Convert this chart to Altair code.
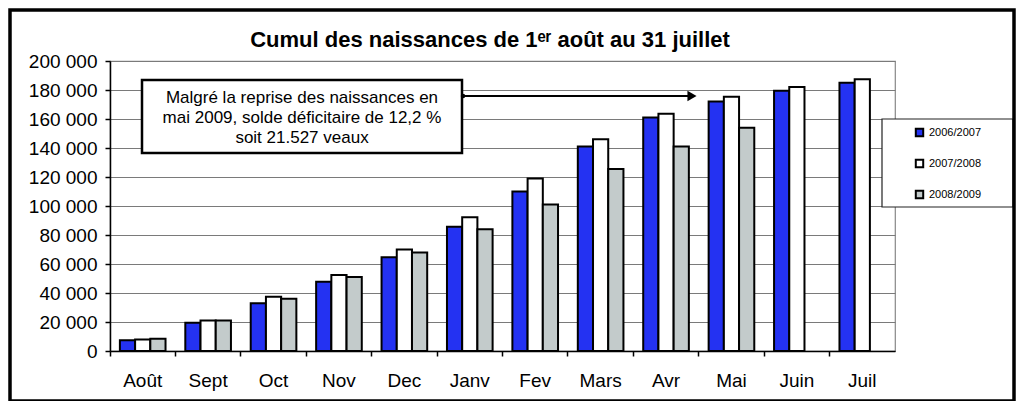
"""Cumul des naissances, grouped bar chart with annotation box."""

import altair as alt
import pandas as pd

months = ["Août", "Sept", "Oct", "Nov", "Dec", "Janv", "Fev", "Mars", "Avr", "Mai", "Juin", "Juil"]
series = ["2006/2007", "2007/2008", "2008/2009"]
colors = ["#2432f2", "#ffffff", "#c3cbcb"]

births_0607 = [7500, 19500, 33000, 47800, 64600, 85700, 110000, 141000, 161000, 172000, 179500, 185000]
births_0708 = [8000, 21000, 37500, 52400, 70000, 92200, 119000, 146000, 163700, 175400, 182000, 187500]
births_0809 = [8500, 21000, 36000, 51000, 68000, 83900, 101000, 125500, 141000, 154000, None, None]

y_ticks = list(range(0, 200001, 20000))

title_text = "Cumul des naissances de 1ᵉʳ août au 31 juillet"
note_lines = [
    "Malgré la reprise des naissances en",
    "mai 2009, solde déficitaire de 12,2 %",
    "soit 21.527 veaux",
]

FONT = "Liberation Sans"
W, H = 785, 290

rows = []
for name, vals in zip(series, [births_0607, births_0708, births_0809]):
    for m, v in zip(months, vals):
        if v is not None:
            rows.append({"mois": m, "saison": name, "naissances": v})
df = pd.DataFrame(rows)
one = pd.DataFrame({"k": [0]})

bars = (
    alt.Chart(df)
    .mark_bar(stroke="black", strokeWidth=2)
    .encode(
        x=alt.X(
            "mois:N",
            sort=months,
            title=None,
            scale=alt.Scale(paddingInner=0, paddingOuter=0),
            axis=alt.Axis(
                labelAngle=0,
                labelFontSize=19,
                labelPadding=15,
                bandPosition=0,
                tickSize=5,
                grid=False,
            ),
        ),
        xOffset=alt.XOffset(
            "saison:N", sort=series, scale=alt.Scale(paddingOuter=0.65, paddingInner=0)
        ),
        y=alt.Y(
            "naissances:Q",
            title=None,
            scale=alt.Scale(domain=[0, 200000], nice=False),
            axis=alt.Axis(
                values=y_ticks,
                labelExpr="replace(format(datum.value, ','), ',', ' ')",
                labelFontSize=19,
                labelPadding=8,
                tickSize=5,
                gridColor="#7a7a7a",
                gridWidth=1.2,
            ),
        ),
        color=alt.Color(
            "saison:N",
            sort=series,
            scale=alt.Scale(domain=series, range=colors),
            legend=alt.Legend(
                title=None,
                orient="none",
                legendX=804,
                legendY=66,
                padding=0,
                symbolType="square",
                symbolSize=55,
                symbolStrokeColor="black",
                symbolStrokeWidth=2,
                labelFontSize=11,
                labelFont=FONT,
                rowPadding=14,
            ),
        ),
    )
)

# legend box drawn behind the legend entries
legend_box = (
    alt.Chart(one)
    .mark_rect(fill="white", stroke="#222", strokeWidth=1.2)
    .encode(x=alt.value(772), x2=alt.value(903), y=alt.value(58), y2=alt.value(146))
)

title = (
    alt.Chart(one)
    .mark_text(
        text=title_text,
        font=FONT,
        fontSize=22,
        fontWeight="bold",
        align="center",
        baseline="alphabetic",
        color="black",
    )
    .encode(x=alt.value(380), y=alt.value(-14))
)

note_box = (
    alt.Chart(one)
    .mark_rect(fill="white", stroke="black", strokeWidth=2.5)
    .encode(x=alt.value(32), x2=alt.value(352), y=alt.value(19), y2=alt.value(92))
)

note_text = (
    alt.Chart(one)
    .mark_text(
        text=note_lines,
        font=FONT,
        fontSize=17,
        lineHeight=20,
        align="center",
        baseline="alphabetic",
        color="black",
    )
    .encode(x=alt.value(192), y=alt.value(42))
)

arrow_line = (
    alt.Chart(one)
    .mark_rule(color="black", strokeWidth=2)
    .encode(x=alt.value(352), x2=alt.value(580), y=alt.value(35))
)

arrow_dot = (
    alt.Chart(one)
    .mark_point(shape="circle", filled=True, color="black", size=20, opacity=1)
    .encode(x=alt.value(353), y=alt.value(35))
)

arrow_head = (
    alt.Chart(one)
    .mark_point(shape="triangle-right", filled=True, color="black", size=110, opacity=1)
    .encode(x=alt.value(582), y=alt.value(35))
)

frame = (
    alt.Chart(one)
    .mark_rect(fill="transparent", stroke="black", strokeWidth=3.5)
    .encode(x=alt.value(-100), x2=alt.value(904), y=alt.value(-51), y2=alt.value(340))
)

chart = (
    alt.layer(
        bars, legend_box, title, note_box, note_text, arrow_line, arrow_dot, arrow_head, frame
    )
    .properties(
        width=W,
        height=H,
        autosize=alt.AutoSizeParams(type="none"),
        padding={"left": 102, "top": 53, "right": 121, "bottom": 50},
    )
    .configure(font=FONT)
    .configure_axis(
        labelFont=FONT,
        labelColor="black",
        domainColor="black",
        domainWidth=1.5,
        tickColor="black",
        tickWidth=1.5,
    )
    .configure_view(stroke="#888", strokeWidth=1.2)
)

chart.save("out.html", embed_options={"renderer": "svg", "actions": False})
